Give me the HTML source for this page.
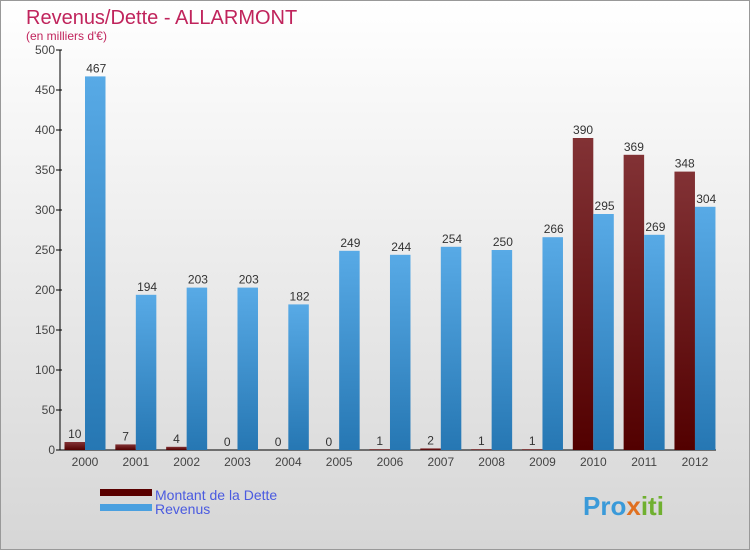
<!DOCTYPE html>
<html><head><meta charset="utf-8"><style>
body{margin:0;background:#fff;}
svg text{font-family:"Liberation Sans",sans-serif;}
</style></head><body>
<svg width="750" height="550" viewBox="0 0 750 550" xmlns="http://www.w3.org/2000/svg">
<defs>
<linearGradient id="bg" x1="0" y1="0" x2="0" y2="1"><stop offset="0" stop-color="#ffffff"/><stop offset="1" stop-color="#d6d6d6"/></linearGradient>
<linearGradient id="gd" x1="0" y1="0" x2="0" y2="1"><stop offset="0" stop-color="#823235"/><stop offset="1" stop-color="#520000"/></linearGradient>
<linearGradient id="gr" x1="0" y1="0" x2="0" y2="1"><stop offset="0" stop-color="#58aae6"/><stop offset="1" stop-color="#2677b3"/></linearGradient>
</defs>
<rect x="0.5" y="0.5" width="749" height="549" fill="url(#bg)" stroke="#999"/>
<text x="26" y="24" font-size="20" fill="#c0245c">Revenus/Dette - ALLARMONT</text>
<text x="26" y="40" font-size="12" fill="#c0245c">(en milliers d'€)</text>
<g id="axes"></g>
<g id="bars"></g>
<g>
<rect x="100" y="489" width="52" height="7" fill="#5a0000"/>
<text x="155" y="500" font-size="14" fill="#4a5ae0">Montant de la Dette</text>
<rect x="100" y="504" width="52" height="7" fill="#4aa0e0"/>
<text x="155" y="514" font-size="14" fill="#4a5ae0">Revenus</text>
</g>
<text x="583" y="515" font-size="26" font-weight="bold" fill="#3a9ad9">Pro<tspan fill="#e07020">x</tspan><tspan fill="#70b030">iti</tspan></text>
</svg>
<script>
const years=["2000","2001","2002","2003","2004","2005","2006","2007","2008","2009","2010","2011","2012"];
const dette=[10,7,4,0,0,0,1,2,1,1,390,369,348];
const revenus=[467,194,203,203,182,249,244,254,250,266,295,269,304];
const yTicks=[0,50,100,150,200,250,300,350,400,450,500];
const NS="http://www.w3.org/2000/svg";
const y0=450,yTop=50,yMax=500,xL=60,xR=716,x0=85,step=50.83,bw=20.5;
const yS=v=>y0-(v/yMax)*(y0-yTop);
const xS=i=>x0+i*step;
function mk(t,a,p){const e=document.createElementNS(NS,t);for(const k in a)e.setAttribute(k,a[k]);p.appendChild(e);return e;}
const ax=document.getElementById('axes'),bg=document.getElementById('bars');
let l=mk('line',{x1:xL,y1:yTop,x2:xL,y2:y0,stroke:'#000'},ax);


l=mk('line',{x1:xL,y1:y0,x2:xR,y2:y0,stroke:'#000'},ax);


yTicks.forEach(v=>{const y=yS(v);
 const t=mk('line',{x1:xL-4,y1:y,x2:xL+2,y2:y,stroke:'#000'},ax);
 
 
 const tx=mk('text',{x:xL-5,y:y+4,'font-size':12,fill:'#444','text-anchor':'end'},ax);tx.textContent=v;
 
 
});
years.forEach((yr,i)=>{const c=xS(i);
 const t=mk('text',{x:c,y:466,'font-size':12,fill:'#444','text-anchor':'middle'},ax);t.textContent=yr;
 
 
 const d=dette[i],r=revenus[i];
 const b1=mk('rect',{x:c-bw,y:yS(d),width:bw,height:y0-yS(d),fill:'url(#gd)'},bg);
 
 
 const l1=mk('text',{x:c-bw/2,y:yS(d)-4,'font-size':12,fill:'#333','text-anchor':'middle'},bg);l1.textContent=d;
 
 
 const b2=mk('rect',{x:c,y:yS(r),width:bw,height:y0-yS(r),fill:'url(#gr)'},bg);
 
 
 const l2=mk('text',{x:c+bw/2+1,y:yS(r)-4,'font-size':12,fill:'#333','text-anchor':'middle'},bg);l2.textContent=r;
 
 
});
</script>
</body></html>
